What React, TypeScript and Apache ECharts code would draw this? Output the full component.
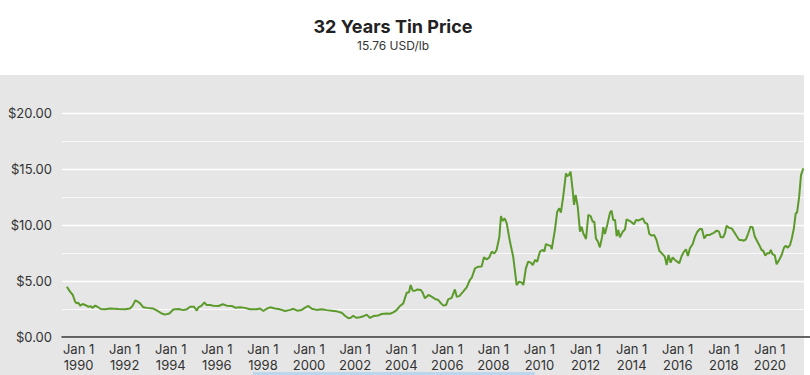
import React, { useEffect, useRef } from "react";
import * as echarts from "echarts";

const TITLE = "32 Years Tin Price";
const SUBTITLE = "15.76 USD/lb";

const tickYears = [1990, 1992, 1994, 1996, 1998, 2000, 2002, 2004, 2006, 2008, 2010, 2012, 2014, 2016, 2018, 2020];

const years = [
  1989.49, 1989.63, 1989.75, 1989.85, 1989.92, 1989.99, 1990.07, 1990.18, 1990.28, 1990.43,
  1990.53, 1990.6, 1990.72, 1990.82, 1990.96, 1991.15, 1991.37, 1991.73, 1992.02, 1992.23,
  1992.35, 1992.46, 1992.57, 1992.67, 1992.81, 1992.98, 1993.22, 1993.39, 1993.61, 1993.75,
  1993.94, 1994.11, 1994.33, 1994.55, 1994.69, 1994.84, 1995.01, 1995.13, 1995.2, 1995.34,
  1995.46, 1995.56, 1995.7, 1995.85, 1996.07, 1996.26, 1996.43, 1996.65, 1996.79, 1997.01,
  1997.22, 1997.44, 1997.73, 1997.87, 1998.02, 1998.16, 1998.31, 1998.52, 1998.74, 1998.96,
  1999.18, 1999.32, 1999.49, 1999.68, 1999.83, 1999.97, 2000.12, 2000.33, 2000.55, 2000.77,
  2000.98, 2001.2, 2001.42, 2001.56, 2001.71, 2001.81, 2001.92, 2002.04, 2002.21, 2002.36,
  2002.5, 2002.65, 2002.79, 2003.01, 2003.15, 2003.37, 2003.51, 2003.66, 2003.8, 2003.95,
  2004.09, 2004.24, 2004.34, 2004.41, 2004.5, 2004.6, 2004.7, 2004.85, 2004.93, 2005.03,
  2005.18, 2005.32, 2005.47, 2005.61, 2005.73, 2005.83, 2005.95, 2006.04, 2006.19, 2006.33,
  2006.41, 2006.52, 2006.69, 2006.84, 2006.98, 2007.07, 2007.2, 2007.35, 2007.49, 2007.59,
  2007.71, 2007.82, 2007.93, 2008.04, 2008.14, 2008.26, 2008.33, 2008.4, 2008.49, 2008.58,
  2008.72, 2008.86, 2009.01, 2009.12, 2009.23, 2009.3, 2009.41, 2009.51, 2009.62, 2009.71,
  2009.81, 2009.9, 2010.02, 2010.14, 2010.21, 2010.28, 2010.38, 2010.49, 2010.53, 2010.67,
  2010.77, 2010.86, 2010.93, 2011.03, 2011.15, 2011.21, 2011.27, 2011.35, 2011.44, 2011.5,
  2011.57, 2011.66, 2011.76, 2011.83, 2011.9, 2012.02, 2012.12, 2012.22, 2012.31, 2012.38,
  2012.45, 2012.54, 2012.62, 2012.72, 2012.77, 2012.84, 2012.94, 2013.06, 2013.13, 2013.2,
  2013.28, 2013.35, 2013.42, 2013.49, 2013.61, 2013.71, 2013.78, 2013.93, 2014.1, 2014.19,
  2014.29, 2014.4, 2014.48, 2014.58, 2014.68, 2014.77, 2014.87, 2014.98, 2015.08, 2015.2,
  2015.34, 2015.44, 2015.52, 2015.6, 2015.69, 2015.78, 2015.88, 2015.98, 2016.07, 2016.17,
  2016.27, 2016.36, 2016.44, 2016.53, 2016.65, 2016.75, 2016.85, 2016.96, 2017.05, 2017.15,
  2017.25, 2017.37, 2017.47, 2017.57, 2017.69, 2017.79, 2017.87, 2017.97, 2018.05, 2018.12,
  2018.22, 2018.34, 2018.44, 2018.56, 2018.67, 2018.77, 2018.87, 2018.96, 2019.06, 2019.16,
  2019.25, 2019.34, 2019.42, 2019.54, 2019.64, 2019.71, 2019.8, 2019.88, 2019.97, 2020.04,
  2020.11, 2020.21, 2020.29, 2020.4, 2020.51, 2020.61, 2020.69, 2020.78, 2020.87, 2020.95,
  2021.04, 2021.12, 2021.18, 2021.27, 2021.35, 2021.45,
];

const prices = [
  4.49, 4.05, 3.75, 3.15, 3.0, 3.06, 2.8, 2.95, 2.86, 2.7,
  2.75, 2.6, 2.8, 2.7, 2.5, 2.47, 2.55, 2.5, 2.47, 2.55,
  2.8, 3.27, 3.15, 3.0, 2.65, 2.6, 2.55, 2.38, 2.1, 2.0,
  2.1, 2.45, 2.5, 2.4, 2.47, 2.7, 2.7, 2.35, 2.65, 2.8,
  3.1, 2.85, 2.85, 2.8, 2.77, 2.92, 2.8, 2.77, 2.62, 2.65,
  2.6, 2.47, 2.47, 2.55, 2.32, 2.52, 2.65, 2.55, 2.47, 2.32,
  2.42, 2.52, 2.35, 2.42, 2.62, 2.77, 2.52, 2.42, 2.47, 2.4,
  2.35, 2.29, 2.17, 1.9, 1.67, 1.72, 1.9, 1.72, 1.76, 1.85,
  2.0, 1.7, 1.87, 1.93, 2.05, 2.1, 2.08, 2.2, 2.4, 2.77,
  3.0, 3.96, 4.0, 4.64, 4.13, 4.13, 4.25, 4.2, 3.96, 3.45,
  3.75, 3.6, 3.39, 3.3, 3.0, 2.8, 2.86, 3.36, 3.5, 4.25,
  3.6, 3.65, 4.05, 4.43, 5.09, 5.33, 6.13, 6.28, 6.3, 7.11,
  6.93, 7.1, 7.62, 7.45, 7.77, 8.95, 10.8, 10.36, 10.6, 10.15,
  8.5, 7.17, 4.64, 4.94, 4.85, 4.64, 6.13, 6.73, 6.64, 6.43,
  6.88, 6.73, 7.62, 7.77, 7.62, 8.3, 8.2, 8.13, 7.83, 9.55,
  11.19, 11.49, 11.1, 12.53, 14.6, 14.37, 14.45, 14.76, 13.13, 11.79,
  12.68, 11.64, 9.4, 9.85, 9.26, 8.75, 10.9, 10.8, 10.3, 10.3,
  8.8, 8.5, 8.0, 8.96, 9.8, 9.2, 10.0, 11.1, 11.28, 10.45,
  10.45, 9.0, 9.55, 8.9, 9.4, 9.6, 10.5, 10.35, 10.06, 10.45,
  10.4, 10.5, 10.6, 10.2, 10.1, 9.2, 9.05, 9.1, 8.66, 7.7,
  7.4, 7.17, 6.43, 7.32, 6.64, 7.11, 6.88, 6.73, 6.58, 7.23,
  7.62, 7.83, 7.23, 7.92, 8.3, 8.96, 9.4, 9.64, 9.64, 8.8,
  9.1, 9.1, 9.2, 9.3, 9.5, 9.4, 8.9, 8.9, 9.26, 9.94,
  9.76, 9.7, 9.4, 9.0, 8.66, 8.66, 8.6, 8.72, 9.26, 9.85,
  9.8, 9.0, 8.66, 8.2, 7.77, 7.7, 7.26, 7.47, 7.47, 7.77,
  7.4, 7.3, 6.49, 6.88, 7.32, 7.97, 8.15, 7.97, 8.2, 8.8,
  9.7, 11.04, 11.13, 12.53, 14.46, 15.05,
];

export default function App() {
  const ref = useRef<HTMLDivElement>(null);

  useEffect(() => {
    if (!ref.current) return;
    const chart = echarts.init(ref.current, undefined, { renderer: "svg" });
    const data = years.map((y, i) => [y, prices[i]]);
    const font = "Inter, 'Open Sans', sans-serif";
    chart.setOption({
      animation: false,
      textStyle: { fontFamily: font },
      graphic: [
        {
          type: "text",
          x: 393,
          y: 26,
          style: {
            text: TITLE,
            fill: "#222",
            font: `bold 18px ${font}`,
            textAlign: "center",
            textVerticalAlign: "middle",
          },
        },
        {
          type: "text",
          x: 393,
          y: 45,
          style: {
            text: SUBTITLE,
            fill: "#333",
            font: `12px ${font}`,
            textAlign: "center",
            textVerticalAlign: "middle",
          },
        },
        {
          type: "rect",
          shape: { x: 253, y: 372, width: 282, height: 4 },
          style: { fill: "#bcd6ec" },
        },
      ],
      grid: { left: 62, right: 0, top: 113, bottom: 38, containLabel: false, outerBoundsMode: "none" },
      xAxis: {
        type: "value",
        min: 1989.28,
        max: 2021.74,
        axisLine: { show: true, lineStyle: { color: "#333", width: 1.5 } },
        axisTick: { show: false },
        splitLine: { show: false },
        axisLabel: {
          customValues: tickYears,
          formatter: (v: number) => `Jan 1\n${Math.round(v)}`,
          color: "#333",
          fontSize: 13,
          lineHeight: 16,
          margin: 4,
        },
      },
      yAxis: {
        type: "value",
        min: 0,
        max: 20,
        interval: 5,
        axisLine: { show: false },
        axisTick: { show: false },
        axisLabel: {
          formatter: (v: number) => `$${v.toFixed(2)}`,
          color: "#333",
          fontSize: 13,
          margin: 10,
        },
        splitLine: { show: true, lineStyle: { color: "#ffffff", width: 1.3 } },
        minorTick: { show: false, splitNumber: 2 },
        minorSplitLine: { show: true, lineStyle: { color: "rgba(255,255,255,0.75)", width: 1 } },
      },
      series: [
        {
          type: "line",
          data,
          showSymbol: false,
          lineStyle: { color: "#5b9a2b", width: 2 },
          itemStyle: { color: "#5b9a2b" },
        },
      ],
    });
    return () => chart.dispose();
  }, []);

  return (
    <div style={{ position: "fixed", left: 0, top: 0, width: 810, height: 375, background: "#fff" }}>
      <div style={{ position: "absolute", left: 0, top: 75, width: 804, height: 300, background: "#e6e6e6" }} />
      <div ref={ref} style={{ position: "absolute", left: 0, top: 0, width: 810, height: 375 }} />
    </div>
  );
}
